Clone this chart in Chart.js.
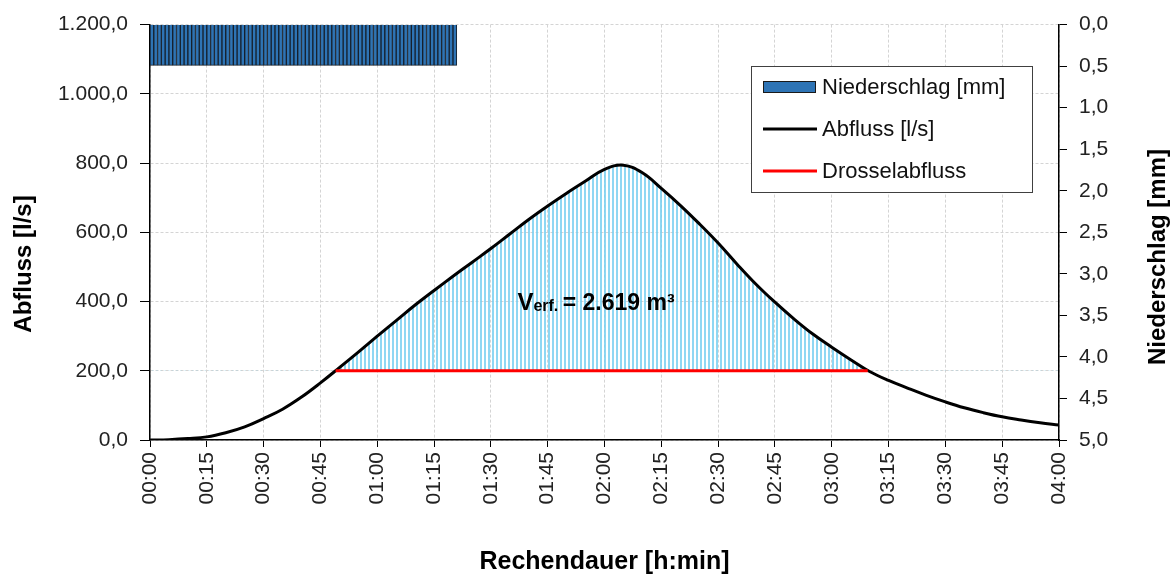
<!DOCTYPE html>
<html lang="de">
<head>
  <meta charset="UTF-8" />
  <title>Abfluss / Niederschlag</title>
  <script src="https://cdn.jsdelivr.net/npm/chart.js"></script>
  <style>
    body {
      margin: 0;
      padding: 0;
      background: #ffffff;
    }

    .wrap {
      width: 1174px;
      height: 575px;
    }
  </style>
</head>
<body>

<div class="wrap">
  <canvas id="chart"></canvas>
</div>

<script>
  // Abfluss [l/s], read every 5 minutes
  const timeMin = [0, 5, 10, 15, 20, 25, 30, 35, 40, 45, 50, 55, 60, 65, 70, 75, 80, 85, 90, 95,
    100, 105, 110, 115, 120, 125, 130, 135, 140, 145, 150, 155, 160, 165, 170, 175, 180, 185, 190, 195,
    200, 205, 210, 215, 220, 225, 230, 235, 240];
  const abfluss = [0, 1, 4, 9, 21, 38, 62, 89, 124, 165, 209, 254, 300, 345, 390, 432, 473, 513, 553, 595,
    637, 676, 713, 748, 782, 794, 772, 727, 678, 625, 569, 508, 450, 398, 350, 306, 268, 232, 198, 172,
    150, 129, 110, 93, 79, 67, 58, 50, 43];

  // Drosselabfluss
  const drosselTime = [49, 189.5];
  const drosselValue = [200, 200];

  // Niederschlag [mm] per minute (interval end)
  const rainMin = [1, 2, 3, 4, 5, 6, 7, 8, 9, 10, 11, 12, 13, 14, 15, 16, 17, 18, 19, 20,
    21, 22, 23, 24, 25, 26, 27, 28, 29, 30, 31, 32, 33, 34, 35, 36, 37, 38, 39, 40,
    41, 42, 43, 44, 45, 46, 47, 48, 49, 50, 51, 52, 53, 54, 55, 56, 57, 58, 59, 60,
    61, 62, 63, 64, 65, 66, 67, 68, 69, 70, 71, 72, 73, 74, 75, 76, 77, 78, 79, 80, 81];
  const rainDepth = [0.49, 0.49, 0.49, 0.49, 0.49, 0.49, 0.49, 0.49, 0.49, 0.49,
    0.49, 0.49, 0.49, 0.49, 0.49, 0.49, 0.49, 0.49, 0.49, 0.49,
    0.49, 0.49, 0.49, 0.49, 0.49, 0.49, 0.49, 0.49, 0.49, 0.49,
    0.49, 0.49, 0.49, 0.49, 0.49, 0.49, 0.49, 0.49, 0.49, 0.49,
    0.49, 0.49, 0.49, 0.49, 0.49, 0.49, 0.49, 0.49, 0.49, 0.49,
    0.49, 0.49, 0.49, 0.49, 0.49, 0.49, 0.49, 0.49, 0.49, 0.49,
    0.49, 0.49, 0.49, 0.49, 0.49, 0.49, 0.49, 0.49, 0.49, 0.49,
    0.49, 0.49, 0.49, 0.49, 0.49, 0.49, 0.49, 0.49, 0.49, 0.49, 0.49];

  // Volume label
  const volumeText = '= 2.619 m³';
  const volumeAt = { x: 97, y: 376 };

  const FONT = '"Liberation Sans", Arial, sans-serif';

  function fmtDe(v, d) {
    const parts = v.toFixed(d).split('.');
    const int = parts[0].replace(/\B(?=(\d{3})+(?!\d))/g, '.');
    return parts[1] ? int + ',' + parts[1] : int;
  }

  function fmtTime(m) {
    const h = Math.floor(m / 60);
    const mm = Math.round(m % 60);
    return String(h).padStart(2, '0') + ':' + String(mm).padStart(2, '0');
  }

  // striped fill (thin vertical lines)
  const canvas = document.getElementById('chart');
  const pc = document.createElement('canvas');
  pc.width = 4;
  pc.height = 4;
  const pctx = pc.getContext('2d');
  pctx.fillStyle = 'rgba(115, 205, 240, 0.8)';
  pctx.fillRect(0, 0, 2, 4);
  const stripes = canvas.getContext('2d').createPattern(pc, 'repeat');

  // titles, legend and volume text
  const overlay = {
    id: 'overlay',
    afterDraw(chart) {
      const ctx = chart.ctx;
      const sx = chart.scales.x;
      const sy = chart.scales.y;
      ctx.save();

      ctx.fillStyle = '#000';
      ctx.textAlign = 'center';
      ctx.textBaseline = 'middle';
      ctx.font = 'bold 24px ' + FONT;

      ctx.save();
      ctx.translate(24, 264);
      ctx.rotate(-Math.PI / 2);
      ctx.fillText('Abfluss [l/s]', 0, 0);
      ctx.restore();

      ctx.save();
      ctx.translate(1158, 257);
      ctx.rotate(-Math.PI / 2);
      ctx.fillText('Niederschlag [mm]', 0, 0);
      ctx.restore();

      // volume
      let x = sx.getPixelForValue(volumeAt.x);
      const y = sy.getPixelForValue(volumeAt.y);
      ctx.textAlign = 'left';
      ctx.textBaseline = 'alphabetic';
      ctx.font = 'bold 24px ' + FONT;
      ctx.fillText('V', x, y);
      x += ctx.measureText('V').width;
      ctx.font = 'bold 16px ' + FONT;
      ctx.fillText('erf.', x, y + 1);
      x += ctx.measureText('erf. ').width;
      ctx.font = 'bold 23px ' + FONT;
      ctx.fillText(volumeText, x, y);

      // legend
      const lx = 751, ly = 66, lw = 281, lh = 126;
      ctx.fillStyle = '#fff';
      ctx.fillRect(lx, ly, lw, lh);
      ctx.strokeStyle = '#404040';
      ctx.lineWidth = 1;
      ctx.strokeRect(lx + 0.5, ly + 0.5, lw, lh);

      const ds = chart.data.datasets;
      const items = [ds[2], ds[1], ds[0]];
      const rows = [87, 129, 171];
      ctx.font = '22px ' + FONT;
      ctx.textBaseline = 'middle';
      items.forEach((d, i) => {
        const ry = rows[i];
        if (d.type === 'bar') {
          ctx.fillStyle = d.backgroundColor;
          ctx.fillRect(763, ry - 6, 53, 12);
          ctx.strokeStyle = '#1a1a1a';
          ctx.strokeRect(763.5, ry - 5.5, 52, 11);
        } else {
          ctx.strokeStyle = d.borderColor;
          ctx.lineWidth = 3;
          ctx.beginPath();
          ctx.moveTo(763, ry);
          ctx.lineTo(817, ry);
          ctx.stroke();
        }
        ctx.fillStyle = '#111';
        ctx.fillText(d.label, 822, ry + 1);
      });

      ctx.restore();
    }
  };

  new Chart(canvas, {
    type: 'line',
    data: {
      datasets: [
        {
          label: 'Drosselabfluss',
          data: drosselTime.map((t, i) => ({ x: t, y: drosselValue[i] })),
          borderColor: '#ff0000',
          borderWidth: 3,
          pointRadius: 0,
          fill: false,
          order: 0,
          yAxisID: 'y'
        },
        {
          label: 'Abfluss [l/s]',
          data: timeMin.map((t, i) => ({ x: t, y: abfluss[i] })),
          borderColor: '#000000',
          borderWidth: 3,
          pointRadius: 0,
          tension: 0.4,
          fill: { target: { value: 200 }, above: stripes, below: 'rgba(0,0,0,0)' },
          order: 1,
          yAxisID: 'y'
        },
        {
          type: 'bar',
          label: 'Niederschlag [mm]',
          data: rainMin.map((t, i) => ({ x: t - 0.5, y: rainDepth[i] })),
          backgroundColor: '#2e74b5',
          borderColor: '#16202c',
          borderWidth: 1,
          barPercentage: 1,
          categoryPercentage: 1,
          order: 2,
          yAxisID: 'y2'
        }
      ]
    },
    options: {
      responsive: true,
      maintainAspectRatio: false,
      animation: false,
      layout: { padding: { top: 20, left: 0, right: 0, bottom: 0 } },
      plugins: {
        legend: { display: false },
        tooltip: { enabled: false }
      },
      scales: {
        x: {
          type: 'linear',
          min: 0,
          max: 240,
          offset: false,
          afterFit: s => { s.height = 135; },
          ticks: {
            stepSize: 15,
            autoSkip: false,
            minRotation: 90,
            maxRotation: 90,
            padding: 5,
            color: '#222',
            font: { family: FONT, size: 21 },
            callback: v => fmtTime(v)
          },
          grid: { color: '#d4d4d4', offset: false, tickColor: '#000', tickLength: 7 },
          border: { color: '#000', width: 1.5, dash: [3, 2] },
          title: {
            display: true,
            text: 'Rechendauer [h:min]',
            color: '#000',
            font: { family: FONT, size: 25, weight: 'bold', lineHeight: 1 },
            padding: { top: 0, bottom: 0 }
          }
        },
        y: {
          position: 'left',
          min: 0,
          max: 1200,
          afterFit: s => { s.width = 150; },
          ticks: {
            stepSize: 200,
            padding: 12,
            color: '#222',
            font: { family: FONT, size: 21 },
            callback: v => fmtDe(v, 1)
          },
          grid: { color: '#d4d4d4', tickColor: '#000', tickLength: 10 },
          border: { color: '#000', width: 1.5, dash: [3, 2] }
        },
        y2: {
          position: 'right',
          reverse: true,
          min: 0,
          max: 5,
          afterFit: s => { s.width = 115; },
          ticks: {
            stepSize: 0.5,
            padding: 12,
            color: '#222',
            font: { family: FONT, size: 21 },
            callback: v => fmtDe(v, 1)
          },
          grid: { drawOnChartArea: false, tickColor: '#000', tickLength: 8 },
          border: { color: '#000', width: 1.5 }
        }
      }
    },
    plugins: [overlay]
  });
</script>

</body>
</html>
